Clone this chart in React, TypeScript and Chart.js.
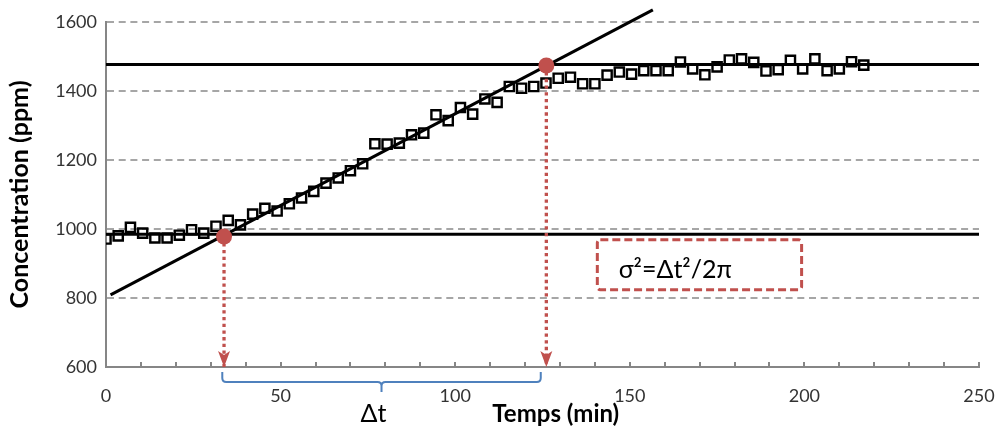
import React, { useEffect, useRef } from 'react';
import { Chart, registerables } from 'chart.js';

Chart.register(...registerables);

// ---- data ----
const timeMin = [
  0, 3.5, 7, 10.5, 14, 17.5, 21, 24.5, 28, 31.5, 35, 38.5, 42, 45.5, 49, 52.5,
  56, 59.5, 63, 66.5, 70, 73.5, 77, 80.5, 84, 87.5, 91, 94.5, 98, 101.5, 105,
  108.5, 112, 115.5, 119, 122.5, 126, 129.5, 133, 136.5, 140, 143.5, 147, 150.5,
  154, 157.5, 161, 164.5, 168, 171.5, 175, 178.5, 182, 185.5, 189, 192.5, 196,
  199.5, 203, 206.5, 210, 213.5, 217,
];
const concPpm = [
  971, 980, 1005, 988, 974, 974, 982, 998, 988, 1008, 1025, 1012, 1043, 1060,
  1052, 1073, 1090, 1109, 1133, 1148, 1169, 1189, 1247, 1246, 1249, 1273, 1278,
  1331, 1314, 1352, 1333, 1377, 1367, 1413, 1408, 1413, 1423, 1437, 1440, 1421,
  1421, 1446, 1455, 1449, 1459, 1459, 1459, 1484, 1464, 1447, 1470, 1490, 1493,
  1483, 1458, 1462, 1489, 1464, 1493, 1459, 1464, 1485, 1475,
];
const yTickValues = [600, 800, 1000, 1200, 1400, 1600];
const xTickValues = [0, 50, 100, 150, 200, 250];
const minorTickStep = 10;

const rampTime = [1.3, 156.6];
const rampConc = [809, 1635];
const levelTime = [0, 250];
const highLevelConc = [1477, 1477];
const lowLevelConc = [985, 985];
const markerTime = [33.8, 126.1];
const markerConc = [978, 1474];
const braceTime = [33.3, 124.5];

const FONT = 'Lato, "Open Sans", "Noto Sans", sans-serif';
const RED = '#c0504d';
const BLUE = '#4f81bd';
const GRID = '#a6a6a6';
const AXIS = '#868686';

// annotation placement (in data units)
const noteBox = { t0: 140.7, t1: 199.2, c0: 968.7, c1: 823.8 };
const noteText = { t: 146.8, c: 858.6, text: 'σ²=Δt²/2π' };
const deltaText = { t: 76.6, text: 'Δt' };
const xTitle = { t: 128.8, text: 'Temps (min)' };

const pts = (xs: number[], ys: number[]) => xs.map((x, i) => ({ x, y: ys[i] }));

const overlay = {
  id: 'overlay',
  afterDatasetsDraw(chart: any) {
    const { ctx, scales } = chart;
    const x = scales.x;
    const y = scales.y;
    const tip = y.getPixelForValue(600);
    ctx.save();
    ctx.fillStyle = RED;
    markerTime.forEach((t) => {
      const px = x.getPixelForValue(t);
      ctx.beginPath();
      ctx.moveTo(px - 6, tip - 16);
      ctx.lineTo(px, tip - 12);
      ctx.lineTo(px + 6, tip - 16);
      ctx.lineTo(px, tip);
      ctx.closePath();
      ctx.fill();
    });
    markerTime.forEach((t, i) => {
      ctx.beginPath();
      ctx.arc(x.getPixelForValue(t), y.getPixelForValue(markerConc[i]), 8, 0, Math.PI * 2);
      ctx.fill();
    });
    ctx.restore();
  },
  afterDraw(chart: any) {
    const { ctx, chartArea, scales } = chart;
    const x = scales.x;
    const y = scales.y;
    const bottom = chartArea.bottom;
    ctx.save();
    // minor ticks (inside)
    ctx.strokeStyle = AXIS;
    ctx.lineWidth = 2;
    for (let v = x.min; v <= x.max; v += minorTickStep) {
      const px = Math.round(x.getPixelForValue(v));
      ctx.beginPath();
      ctx.moveTo(px, bottom);
      ctx.lineTo(px, bottom - 5);
      ctx.stroke();
    }
    // brace
    const x1 = x.getPixelForValue(braceTime[0]);
    const x2 = x.getPixelForValue(braceTime[1]);
    const xm = (x1 + x2) / 2;
    const y0 = bottom + 5;
    const y1 = bottom + 15;
    const r = 4;
    ctx.strokeStyle = BLUE;
    ctx.lineWidth = 2;
    ctx.beginPath();
    ctx.moveTo(x1, y0);
    ctx.lineTo(x1, y1 - r);
    ctx.quadraticCurveTo(x1, y1, x1 + r, y1);
    ctx.lineTo(xm - r, y1);
    ctx.quadraticCurveTo(xm, y1, xm, y1 + r);
    ctx.lineTo(xm, y1 + 10);
    ctx.moveTo(xm, y1 + r);
    ctx.quadraticCurveTo(xm, y1, xm + r, y1);
    ctx.lineTo(x2 - r, y1);
    ctx.quadraticCurveTo(x2, y1, x2, y1 - r);
    ctx.lineTo(x2, y0);
    ctx.stroke();
    // texts below axis
    ctx.fillStyle = '#000';
    ctx.textAlign = 'center';
    ctx.textBaseline = 'alphabetic';
    ctx.font = `25px ${FONT}`;
    ctx.fillText(deltaText.text, x.getPixelForValue(deltaText.t), bottom + 55);
    ctx.font = `bold 24px ${FONT}`;
    ctx.fillText(xTitle.text, x.getPixelForValue(xTitle.t), bottom + 55);
    // note box
    const bx0 = x.getPixelForValue(noteBox.t0);
    const bx1 = x.getPixelForValue(noteBox.t1);
    const by0 = y.getPixelForValue(noteBox.c0);
    const by1 = y.getPixelForValue(noteBox.c1);
    ctx.strokeStyle = RED;
    ctx.lineWidth = 3;
    ctx.setLineDash([8, 4]);
    ctx.beginPath();
    ctx.roundRect(bx0, by0, bx1 - bx0, by1 - by0, 3);
    ctx.stroke();
    ctx.setLineDash([]);
    ctx.font = `25px ${FONT}`;
    ctx.textAlign = 'left';
    ctx.fillText(noteText.text, x.getPixelForValue(noteText.t), y.getPixelForValue(noteText.c));
    ctx.restore();
  },
};

export default function App() {
  const ref = useRef<HTMLCanvasElement>(null);
  useEffect(() => {
    if (!ref.current) return;
    const lineDs = (label: string, data: any[], extra: any = {}) => ({
      label,
      data,
      showLine: true,
      borderColor: '#000',
      borderWidth: 3,
      pointRadius: 0,
      ...extra,
    });
    const chart = new Chart(ref.current, {
      type: 'scatter',
      data: {
        datasets: [
          lineDs('drop1', [{ x: markerTime[0], y: markerConc[0] }, { x: markerTime[0], y: 600 }], {
            borderColor: RED, borderWidth: 3.3, borderDash: [3.3, 3.4],
          }),
          lineDs('drop2', [{ x: markerTime[1], y: markerConc[1] }, { x: markerTime[1], y: 600 }], {
            borderColor: RED, borderWidth: 3.3, borderDash: [3.3, 3.4],
          }),
          lineDs('ramp', pts(rampTime, rampConc), { clip: false }),
          lineDs('high', pts(levelTime, highLevelConc), { clip: false }),
          lineDs('low', pts(levelTime, lowLevelConc), { clip: false }),
          {
            label: 'Concentration',
            data: pts(timeMin, concPpm),
            showLine: false,
            pointStyle: 'rect',
            pointRadius: 6.5,
            pointBorderWidth: 2.4,
            pointBorderColor: '#000',
            pointBackgroundColor: 'rgba(0,0,0,0)',
          },
        ],
      },
      options: {
        animation: false,
        responsive: false,
        devicePixelRatio: 1,
        layout: { padding: { top: 22, right: 20, left: 0, bottom: 0 } },
        plugins: { legend: { display: false }, tooltip: { enabled: false } },
        scales: {
          x: {
            type: 'linear',
            min: 0,
            max: 250,
            afterBuildTicks: (s: any) => { s.ticks = xTickValues.map((value) => ({ value })); },
            afterFit: (s: any) => {
              s.height = 60;
              s.paddingLeft = 0;
              s.paddingRight = 0;
            },
            ticks: {
              font: { family: FONT, size: 18 },
              color: '#333',
              padding: 18,
              callback: (v: any) => String(v),
            },
            grid: { display: false, drawTicks: false },
            border: { display: true, color: AXIS, width: 2 },
          },
          y: {
            type: 'linear',
            min: 600,
            max: 1600,
            afterBuildTicks: (s: any) => { s.ticks = yTickValues.map((value) => ({ value })); },
            afterFit: (s: any) => {
              s.width = 106;
              s.paddingTop = 0;
              s.paddingBottom = 0;
            },
            ticks: {
              font: { family: FONT, size: 18 },
              color: '#333',
              padding: 9,
              callback: (v: any) => String(v),
            },
            grid: {
              color: (c: any) => (c.tick && c.tick.value === 600 ? 'rgba(0,0,0,0)' : GRID),
              lineWidth: 2,
              drawTicks: false,
            },
            border: { display: true, color: AXIS, width: 2, dash: [7, 4.7] },
            title: {
              display: true,
              text: 'Concentration (ppm)',
              font: { family: FONT, size: 25, weight: 'bold' },
              color: '#000',
              padding: { top: 5, bottom: 0 },
            },
          },
        },
      },
      plugins: [overlay],
    } as any);
    return () => chart.destroy();
  }, []);
  return (
    <div style={{ position: 'absolute', left: 0, top: 0, width: 999, height: 427, background: '#fff' }}>
      <canvas ref={ref} width={999} height={427} style={{ display: 'block' }} />
    </div>
  );
}
